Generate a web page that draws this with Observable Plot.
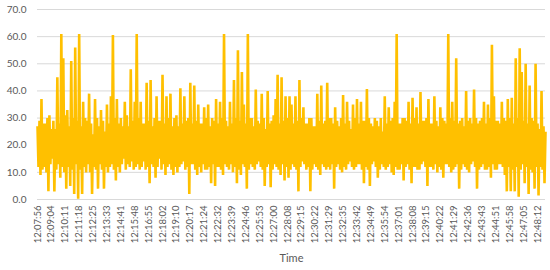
<!DOCTYPE html>
<html>
<head>
<meta charset="utf-8">
<script src="https://cdn.jsdelivr.net/npm/d3@7"></script>
<script src="https://cdn.jsdelivr.net/npm/@observablehq/plot@0.6"></script>
<style>
  html, body { margin: 0; padding: 0; background: #fff; }
</style>
</head>
<body>
<div id="chart"></div>
<script>
// Tick labels shown on the category axis (one every 14 samples)
const tickLabels = [
  "12:07:56","12:09:04","12:10:11","12:11:18","12:12:25","12:13:33","12:14:41","12:15:48",
  "12:16:55","12:18:02","12:19:10","12:20:17","12:21:24","12:22:32","12:23:39","12:24:46",
  "12:25:53","12:27:00","12:28:08","12:29:15","12:30:22","12:31:29","12:32:35","12:33:42",
  "12:34:49","12:35:54","12:37:01","12:38:08","12:39:15","12:40:22","12:41:29","12:42:36",
  "12:43:43","12:44:51","12:45:58","12:47:05","12:48:12"
];
const labelEvery = 14;

// Estimated series values
const values = [
  27,12,29,9,37,11,28,12,28,10,30,3,31,13,26,15,29,3,26,11,
  45,13,28,8,61,12,52,10,31,4,33,12,27,5,51,11,30,2,56,13,
  29,0.3,61,11,27,2,36,12,30,10,29,13,39,10,28,2,24,12,37,11,
  30,4,27,13,33,11,29,4,25,12,35,10,28,12,38,13,60.6,11,30,7,
  37,12,28,10,30,13,27,15,36,11,31,13,27,12,48,14,29,11,36,12,
  61,13,30,11,36,12,28,14,28,11,43,12,29,6,44,13,27,12,30,8,
  38,12,29,15,29,11,46,13,28,9,38,12,30,13,39,11,27,9,30,12,
  31,10,27,12,41,13,28,14,38,11,29,12,30,2,43,13,28,13,42,11,
  29,9,35,12,28,10,28,13,34,11,30,11,35,12,27,6,30,13,29,5,
  37,12,28,12,36,11,30,9,61,13,29,12,27,11,36,13,28,10,44,12,
  30,6,55,11,29,9,47,13,35,12,28,4,61,11,30,13,30,12,27,11,
  40.5,13,29,14,28,12,39,11,30,5,26,12,40,13,28,4.5,29,11,31,13,
  37,12,46,11,28,9,45,13,29,7,38,12,30,8,38,11,35,13,28,12,
  38,11,29,3,44,12,30,14,34,13,28,11,28,12,30,3,30,11,27,13,
  27,12,39,11,29,9,42,13,28,12,29,11,43,12,30,11,30,13,28,4,
  34,12,29,13,27,11,30,10,38.5,12,28,11,36,13,29,14,26,12,35,11,
  30,12,37,13,28,13,36,11,29,6,29,12,40.7,11,30,5,28,13,27,14,
  30,12,29,8,27,11,30,13,25,12,38,11,28,12,34,13,29,10,30,9,
  36,12,61,11,28,11,28,13,30,7,30,12,29,13,36,11,28,6,37.5,12,
  30,12,34,11,28,11,39.6,13,29,14,29,12,30,5,37,12,28,12,28,11,
  38,13,29,10,27,12,34,11,30,8,29,13,28,13,61,12,30,10,36,11,
  29,12,52,13,28,4,29,11,30,13,27,12,40,11,29,10,30,13,28,14,
  40.5,12,30,4,28,11,29,12,30,13,36,11,28,11,35,12,30,8,57,13,
  38,11,29,11,29,13,28,13,36,12,30,9,29,3,37,12,30,3,37.5,11,
  28,3,52,12,30,1,55.7,11,47,13,29,6,50,12,28,2,42,11,30,10,
  29,4,50,12,28,1.5,26,12,40,11,27,6,25
];
const yTicks = [0, 10, 20, 30, 40, 50, 60, 70];

const data = values.map((v, i) => ({i, v}));
const tickIdx = tickLabels.map((_, k) => k * labelEvery);

const chart = Plot.plot({
  width: 550,
  height: 270,
  marginTop: 9,
  marginBottom: 71,
  marginLeft: 37,
  marginRight: 5,
  style: {fontFamily: "Lato, 'Open Sans', sans-serif", fontSize: "10px", color: "#595959", background: "#fff"},
  x: {domain: [0, values.length - 1]},
  y: {domain: [0, 70]},
  marks: [
    Plot.ruleY(yTicks, {stroke: "#d9d9d9", strokeWidth: 1}),
    Plot.line(data, {x: "i", y: "v", stroke: "#FFC000", strokeWidth: 2.6, strokeLinejoin: "bevel", strokeLinecap: "butt"}),
    Plot.axisY({ticks: yTicks, tickFormat: d3.format(".1f"), tickSize: 0, tickPadding: 11, label: null, fontSize: 10}),
    Plot.axisX({ticks: tickIdx, tickFormat: d => tickLabels[d / labelEvery], tickRotate: -90, tickSize: 0, tickPadding: 6, label: null, fontSize: 9.5}),
    Plot.text(["Time"], {text: d => d, frameAnchor: "bottom", dy: 62, fill: "#595959", fontSize: 11})
  ]
});
document.getElementById("chart").appendChild(chart);
</script>
</body>
</html>
